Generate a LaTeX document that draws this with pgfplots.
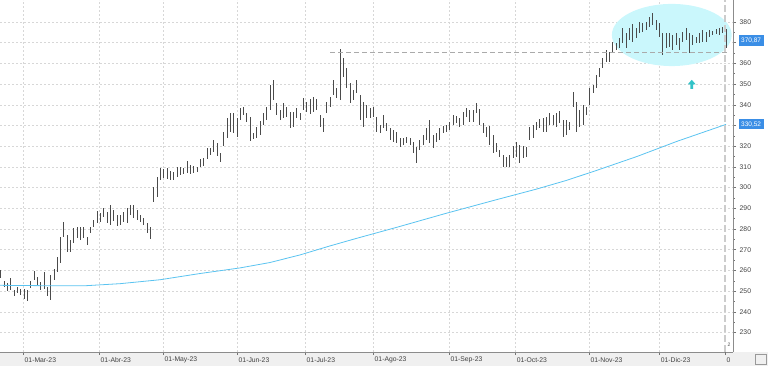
\documentclass[border=0pt]{standalone}
\usepackage{fontspec}
\setmainfont{Liberation Sans}
\usepackage{pgfplots}
\usepackage{pgfplotstable}
\usetikzlibrary{backgrounds}
\pgfplotsset{compat=1.18}
\definecolor{barc}{RGB}{75,75,75}
\definecolor{mac}{RGB}{90,195,240}
\definecolor{ellc}{RGB}{202,247,252}
\definecolor{arrc}{RGB}{50,195,200}
\definecolor{boxc}{RGB}{58,142,230}
\definecolor{bandc}{RGB}{240,240,240}
\definecolor{gridc}{RGB}{215,215,215}
\definecolor{dashc}{RGB}{170,170,170}

\pgfplotstableread{
i h l
1 260.2 256.2
2 255.0 252.1
3 254.1 250.0
4 256.3 250.5
5 250.5 247.6
6 252.1 248.9
7 251.0 248.1
8 250.9 246.0
9 250.5 245.4
10 255.0 251.4
11 259.9 255.4
12 257.0 252.9
13 254.5 250.5
14 259.4 250.9
15 252.1 247.6
16 257.8 245.7
17 260.7 255.4
18 266.6 259.4
19 276.3 263.4
20 283.2 276.3
21 277.1 269.0
22 274.7 269.0
23 280.3 273.1
24 281.1 275.5
25 280.8 274.7
26 281.1 275.5
27 276.3 272.3
28 281.1 277.9
29 284.3 281.1
30 288.8 282.8
31 287.6 283.5
32 290.0 285.9
33 288.4 282.8
34 291.6 281.9
35 289.2 284.0
36 286.8 281.4
37 286.8 281.9
38 288.4 283.5
39 290.0 282.8
40 291.6 286.8
41 291.6 285.2
42 289.2 284.3
43 286.8 283.5
44 285.2 281.9
45 282.8 277.9
46 281.1 275.0
47 300.4 293.2
48 305.3 295.6
49 309.3 303.7
50 308.8 304.5
51 309.3 304.0
52 308.2 303.7
53 307.7 303.7
54 310.1 305.3
55 309.8 306.1
56 309.3 306.6
57 313.0 307.2
58 310.9 306.6
59 310.4 307.2
60 310.1 307.7
61 313.7 309.8
62 314.2 310.4
63 319.0 313.7
64 319.0 315.7
65 323.0 317.3
66 321.4 315.3
67 316.6 312.5
68 327.0 320.1
69 333.5 323.8
70 335.9 327.0
71 336.2 326.5
72 333.5 324.6
73 338.3 332.7
74 338.8 335.1
75 335.9 331.8
76 334.3 322.7
77 326.2 323.3
78 329.4 323.8
79 332.3 325.4
80 335.9 330.2
81 339.1 332.7
82 349.6 337.5
83 352.0 342.3
84 340.7 335.1
85 337.5 332.7
86 340.7 333.5
87 339.1 334.3
88 336.7 328.6
89 336.7 329.4
90 338.3 333.5
91 335.9 332.7
92 343.1 337.5
93 341.5 336.7
94 342.7 335.6
95 343.6 336.7
96 342.7 337.5
97 335.1 329.4
98 333.5 327.0
99 341.5 335.9
100 343.9 339.1
101 352.0 344.7
102 348.0 343.1
103 366.8 342.3
104 362.5 353.6
105 357.6 348.0
106 350.4 340.7
107 347.2 342.3
108 352.0 345.6
109 344.7 332.7
110 341.5 329.4
111 339.9 333.5
112 338.3 333.5
113 339.1 334.3
114 334.3 327.0
115 330.2 326.2
116 335.1 328.6
117 331.1 327.5
118 328.6 323.0
119 327.8 322.2
120 327.0 321.4
121 323.8 319.8
122 323.8 320.6
123 324.6 321.4
124 323.8 320.6
125 322.2 316.6
126 319.8 311.7
127 323.0 318.2
128 325.4 320.6
129 328.6 323.0
130 332.7 321.4
131 325.4 319.0
132 326.2 322.2
133 328.6 323.0
134 329.8 326.2
135 330.2 327.0
136 331.8 327.8
137 335.1 330.2
138 334.6 331.1
139 333.5 329.4
140 336.7 330.2
141 338.3 334.3
142 337.5 331.8
143 337.5 331.8
144 341.0 336.2
145 337.8 330.2
146 331.1 326.2
147 329.4 324.6
148 329.8 320.6
149 325.4 316.6
150 321.4 317.3
151 318.2 314.9
152 315.7 310.1
153 314.9 309.8
154 315.7 309.8
155 320.1 314.2
156 322.2 314.9
157 320.6 311.7
158 320.1 314.2
159 319.8 314.9
160 329.4 323.0
161 330.2 323.8
162 331.8 327.8
163 333.0 328.6
164 333.5 327.0
165 334.0 327.0
166 335.9 330.2
167 335.1 330.2
168 335.9 329.4
169 337.2 331.1
170 332.7 324.6
171 332.7 325.4
172 331.8 327.8
173 346.3 339.1
174 341.5 327.0
175 337.5 329.4
176 339.9 330.2
177 339.1 335.1
178 348.0 339.9
179 349.6 345.6
180 354.4 348.0
181 357.6 353.6
182 362.6 357.8
183 366.5 360.8
184 365.7 360.8
185 370.5 364.9
186 369.7 366.5
187 372.1 367.3
188 377.0 369.7
189 374.5 367.3
190 377.0 371.3
191 379.0 370.5
192 377.0 372.1
193 380.1 374.5
194 379.4 375.3
195 380.1 376.1
196 382.6 377.7
197 384.5 378.6
198 381.0 376.1
199 379.4 372.9
200 374.5 364.1
201 374.5 367.3
202 374.5 368.1
203 373.7 366.5
204 374.5 368.9
205 372.1 366.5
206 375.3 370.5
207 377.0 371.3
208 374.5 364.9
209 373.7 368.9
210 372.9 369.7
211 374.5 369.7
212 376.1 370.5
213 375.3 370.5
214 376.1 372.9
215 375.8 373.7
216 376.5 374.1
217 377.0 373.7
218 377.7 374.5
219 376.5 367.3
}\bars

\begin{document}
\begin{tikzpicture}[x=1pt,y=1pt]
\begin{axis}[
  scale only axis, width=733pt, height=352pt,
  xmin=0.79, xmax=221.1, ymin=220.6, ymax=390.6,
  axis x line*=bottom, axis y line*=right,
  axis line style={draw=black!45, line width=0.6pt},
  /pgf/number format/assume math mode=true,
  ytick={230,240,...,380},
  yticklabels={230,240,250,260,270,280,290,300,310,320,,340,350,360,,380},
  minor y tick num=1, minor x tick num=0,
  tick align=outside,
  major tick length=3pt, minor tick length=1.8pt,
  tick style={draw=black!55, line width=0.5pt},
  xtick={7.7,30.55,49.78,72.02,92.46,112.9,135.7,155.6,177.8,198.9},
  xticklabels={01-Mar-23,01-Abr-23,01-May-23,01-Jun-23,01-Jul-23,01-Ago-23,01-Sep-23,01-Oct-23,01-Nov-23,01-Dic-23},
  extra x ticks={218.7}, extra x tick labels={0},
  extra x tick style={grid=none},
  xmajorgrids=true, ymajorgrids=true,
  major grid style={draw=gridc, line width=0.5pt, dash pattern=on 2pt off 2pt},
  ticklabel style={font=\fontsize{6.8}{8}\selectfont, text=black!75},
  xticklabel style={anchor=west, inner sep=0pt, xshift=1.5pt, yshift=-5pt},
  yticklabel style={inner sep=0pt, xshift=3.5pt},
]
\fill[ellc] (axis cs:202.7,373.7) ellipse [x radius=18, y radius=15];
\addplot[draw=none, mark=none,
  error bars/.cd, y dir=both, y explicit, error mark=none,
  error bar style={draw=barc, line width=0.85pt}]
  table[x=i, y expr={(\thisrow{h}+\thisrow{l})/2}, y error expr={(\thisrow{h}-\thisrow{l})/2}] {\bars};
\addplot[mac, line width=0.8pt, mark=none] coordinates {
(0.79,252.8) (15.8,252.6) (26.4,252.6) (36.9,253.6) (48.9,255.5)
(60.9,258.5) (72.9,261.2) (81.9,263.8) (91,267.5) (99.9,271.8)
(108,275.5) (120,280.8) (134.7,287.5) (150.1,294.2) (162.1,299.3)
(171.1,303.5) (180.1,308.3) (192.2,315.0) (204.2,322.3) (219,330.52)};
\addplot[dashc, line width=1.4pt, dash pattern=on 5pt off 3pt, mark=none] coordinates {(100,365.2) (219.6,365.2)};
\draw[black!20, line width=1.2pt, dash pattern=on 7pt off 3pt] (axis cs:218.7,220.6) -- (axis cs:218.7,390.6);
\coordinate (ar) at (axis cs:208.7,349.9);
\coordinate (p1) at (axis cs:221.1,370.87);
\coordinate (p2) at (axis cs:221.1,330.52);
\coordinate (sw) at (rel axis cs:0,0);
\end{axis}
\fill[arrc] ([shift={(-1.3pt,-4.5pt)}]ar) -- ++(0pt,4.5pt) -- ++(-2.6pt,0pt) -- ++(3.9pt,4.5pt) -- ++(3.9pt,-4.5pt) -- ++(-2.6pt,0pt) -- ++(0pt,-4.5pt) -- cycle;
\begin{scope}[on background layer]
\fill[bandc] ([yshift=-14pt]sw) rectangle ([xshift=768pt]sw);
\end{scope}
\node[fill=boxc, text=white, anchor=west, inner xsep=2.5pt, inner ysep=0pt, minimum height=11pt, font=\fontsize{6.5}{7}\selectfont] at ([xshift=5.5pt]p1) {370,87};
\node[fill=boxc, text=white, anchor=west, inner xsep=2.5pt, inner ysep=0pt, minimum height=10pt, font=\fontsize{6.5}{7}\selectfont] at ([xshift=5.5pt]p2) {330,52};
\node[font=\fontsize{5}{6}\selectfont, text=black!70, inner sep=0pt] at ([shift={(729pt,7pt)}]sw) {2};
\draw[black!40, line width=0.4pt] ([shift={(755pt,-12pt)}]sw) rectangle ([shift={(766pt,-2pt)}]sw);
\pgfresetboundingbox
\useasboundingbox ([yshift=-14pt]sw) rectangle ([shift={(768pt,352pt)}]sw);
\end{tikzpicture}
\end{document}
